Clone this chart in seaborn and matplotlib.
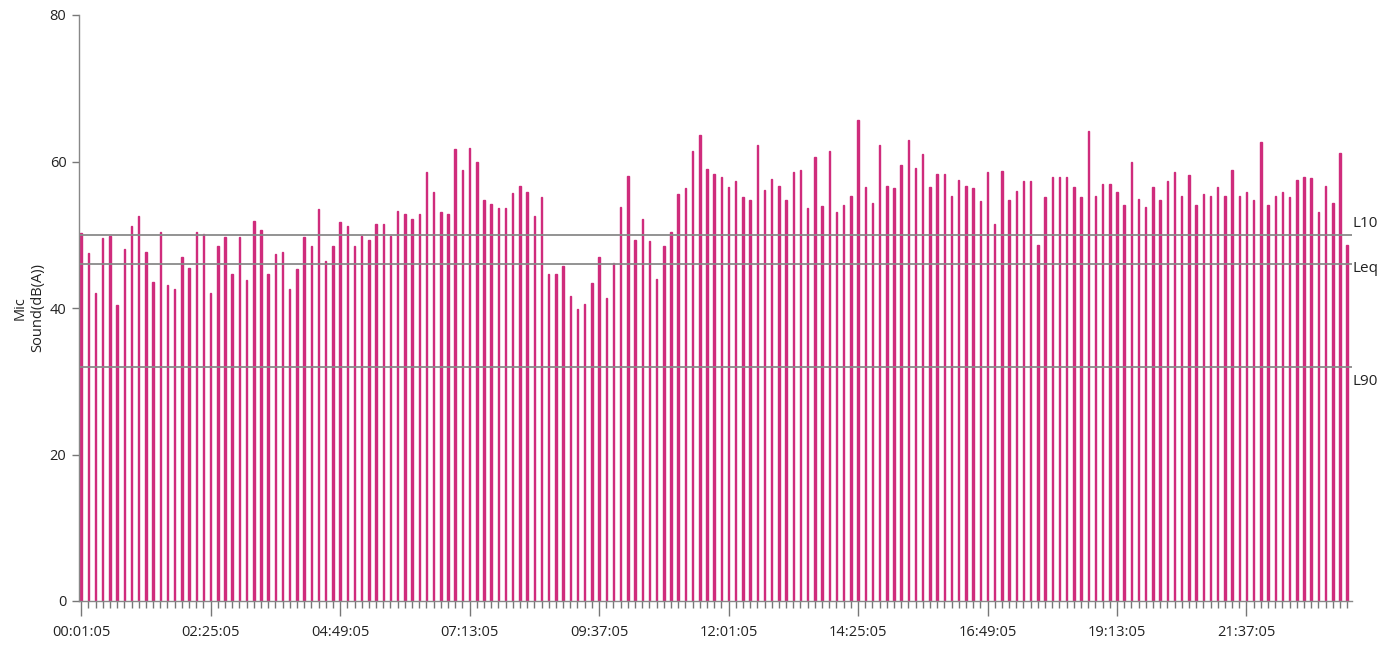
import matplotlib
matplotlib.use("Agg")
import matplotlib.pyplot as plt
import seaborn as sns
import pandas as pd
import numpy as np

# ---- data ----
start_time = "00:01:05"
step_minutes = 8
sound_db = [
    50.3, 47.5, 42.0, 49.5, 49.8, 40.4, 48.1, 51.2, 52.5, 47.7,
    43.6, 50.4, 43.2, 42.6, 47.0, 45.5, 50.4, 50.1, 42.0, 48.4,
    49.7, 44.7, 49.7, 43.8, 51.9, 50.7, 44.7, 47.4, 47.6, 42.6,
    45.3, 49.7, 48.4, 53.5, 46.4, 48.4, 51.8, 51.2, 48.5, 49.8,
    49.3, 51.4, 51.4, 49.8, 53.3, 52.8, 52.1, 52.9, 58.5, 55.8,
    53.1, 52.9, 61.7, 58.9, 61.9, 59.9, 54.8, 54.2, 53.6, 53.6,
    55.7, 56.6, 55.9, 52.5, 55.2, 44.6, 44.7, 45.7, 41.6, 39.9,
    40.5, 43.4, 47.0, 41.4, 46.1, 53.8, 58.0, 49.3, 52.2, 49.1,
    43.9, 48.5, 50.4, 55.5, 56.4, 61.5, 63.6, 59.0, 58.3, 57.9,
    56.5, 57.3, 55.2, 54.8, 62.2, 56.1, 57.6, 56.7, 54.8, 58.6,
    58.8, 53.6, 60.6, 53.9, 61.5, 53.1, 54.0, 55.3, 65.7, 56.5,
    54.3, 62.3, 56.6, 56.4, 59.5, 63.0, 59.1, 61.0, 56.5, 58.3,
    58.3, 55.3, 57.5, 56.6, 56.4, 54.6, 58.5, 51.4, 58.7, 54.8,
    56.0, 57.3, 57.3, 48.6, 55.2, 57.9, 57.9, 57.9, 56.5, 55.2,
    64.2, 55.3, 56.9, 56.9, 55.9, 54.0, 60.0, 54.9, 53.8, 56.5,
    54.7, 57.4, 58.5, 55.3, 58.1, 54.1, 55.5, 55.3, 56.5, 55.3,
    58.9, 55.3, 55.9, 54.7, 62.7, 54.0, 55.3, 55.8, 55.2, 57.5,
    57.9, 57.7, 53.1, 56.7, 54.4, 61.1, 48.6,
]
ref_names = ["L10", "Leq", "L90"]
ref_values = [50.0, 46.0, 32.0]
y_ticks = [0, 20, 40, 60, 80]
label_every = 18

# ---- build time labels ----
t0 = pd.Timestamp("2000-01-01 " + start_time)
times = [(t0 + pd.Timedelta(minutes=step_minutes * i)).strftime("%H:%M:%S")
         for i in range(len(sound_db))]
df = pd.DataFrame({"time": times, "db": sound_db})

sns.set_style("white")
plt.rcParams["font.family"] = ["Open Sans", "DejaVu Sans"]

fig = plt.figure(figsize=(13.9, 6.48), dpi=100)
ax = fig.add_axes([79 / 1390, 47 / 648, (1351.5 - 79) / 1390, (601 - 15) / 648])

bar_color = "#CF2C7C"
sns.barplot(data=df, x="time", y="db", color=bar_color, saturation=1,
            width=0.2, ax=ax, errorbar=None,
            edgecolor=bar_color, linewidth=1.0)

n = len(sound_db)
ax.set_xlim(-0.3, n - 1 + 0.6)
ax.set_ylim(0, 80)

# reference lines
line_color = "#8a8a8a"
for name, v in zip(ref_names, ref_values):
    ax.axhline(v, color=line_color, lw=1.3, zorder=3)
xr = n - 1 + 0.6
txt_kw = dict(fontsize=11, color="#222222", ha="left")
ax.text(xr + 0.1, ref_values[0] + 0.5, ref_names[0], va="bottom", **txt_kw)
ax.text(xr + 0.1, ref_values[1] - 0.6, ref_names[1], va="center", **txt_kw)
ax.text(xr + 0.1, ref_values[2] - 1.0, ref_names[2], va="top", **txt_kw)

# ticks
major_pos = list(range(0, n, label_every))
ax.set_xticks(major_pos)
ax.set_xticklabels([times[i] for i in major_pos], fontsize=10.5, color="#222222")
ax.set_xticks(range(n), minor=True)
ax.tick_params(axis="x", which="major", length=11, width=1, color="#777777",
               pad=6, bottom=True)
ax.tick_params(axis="x", which="minor", length=5, width=1, color="#777777",
               bottom=True)
ax.set_yticks(y_ticks)
ax.set_yticklabels([str(v) for v in y_ticks], fontsize=10.5, color="#222222")
ax.tick_params(axis="y", which="major", length=5, width=1, color="#777777",
               pad=4, left=True)

ax.set_xlabel("")
ax.set_ylabel("Mic\nSound(dB(A))", fontsize=10.5, color="#222222", labelpad=3,
              linespacing=1.3)

for s in ["top", "right"]:
    ax.spines[s].set_visible(False)
for s in ["left", "bottom"]:
    ax.spines[s].set_color("#888888")
    ax.spines[s].set_linewidth(1)

fig.savefig("out.png", dpi=100, facecolor="white")
